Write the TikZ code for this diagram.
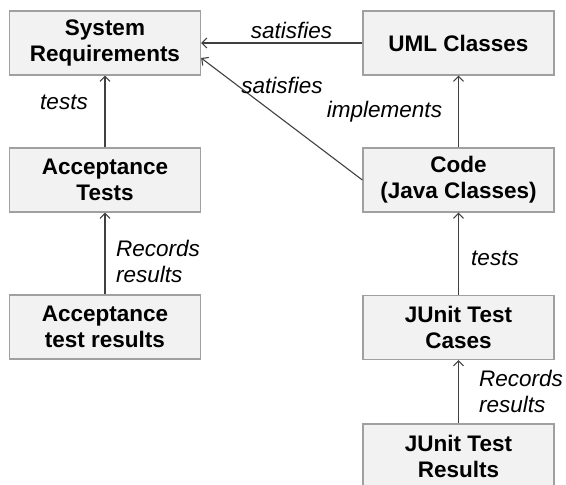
\documentclass[tikz,border=0pt]{standalone}
\usepackage{fontspec}
\setmainfont{Liberation Sans}
\usetikzlibrary{arrows.meta,calc}
\definecolor{boxfill}{HTML}{F2F2F2}
\definecolor{boxline}{HTML}{A0A0A0}
\definecolor{conn}{HTML}{404040}
\begin{document}
\begin{tikzpicture}[x=1pt,y=-1pt,
  box/.style={draw=boxline,fill=boxfill,line width=1.3pt,minimum width=191pt,minimum height=64pt,
    inner sep=0pt,align=center,font=\fontsize{22.5}{26}\selectfont\bfseries},
  conn/.style={draw=conn,line width=1.1pt,-{Straight Barb[length=5pt,width=10pt]}},
  lab/.style={font=\fontsize{22.5}{26}\selectfont\itshape,inner sep=0pt,align=left}]
\useasboundingbox (0,0) rectangle (566,485);
\node[box] (sr)  at (105,43)    {System\\Requirements};
\node[box] (uml) at (458.5,43)  {UML Classes};
\node[box] (at)  at (105,180)   {Acceptance\\Tests};
\node[box] (code) at (458.5,180) {Code\\(Java Classes)};
\node[box] (atr) at (105,327)   {Acceptance\\test results};
\node[box] (jtc) at (458.5,327.5) {JUnit Test\\Cases};
\node[box] (jtr) at (458.5,456) {JUnit Test\\Results};
\coordinate (srd) at ($(sr.east)+(0,15)$);
\draw[conn] (uml.west) -- (sr.east);
\draw[conn] (code.west) -- (srd);
\draw[conn] (at.north) -- (sr.south);
\draw[conn] (atr.north) -- (at.south);
\draw[conn] (code.north) -- (uml.south);
\draw[conn] (jtc.north) -- (code.south);
\draw[conn] (jtr.north) -- (jtc.south);
\node[lab] (l1) at (291.5,30) {satisfies};
\node[lab] (l2) at (282,85) {satisfies};
\node[lab] (l3) at (384.5,112) {implements};
\node[lab] (l4) at (64,102) {tests};
\node[lab,anchor=west] (l5) at (116,261) {Records\\results};
\node[lab] (l6) at (495,258) {tests};
\node[lab,anchor=west] (l7) at (479,391) {Records\\results};
\end{tikzpicture}
\end{document}
